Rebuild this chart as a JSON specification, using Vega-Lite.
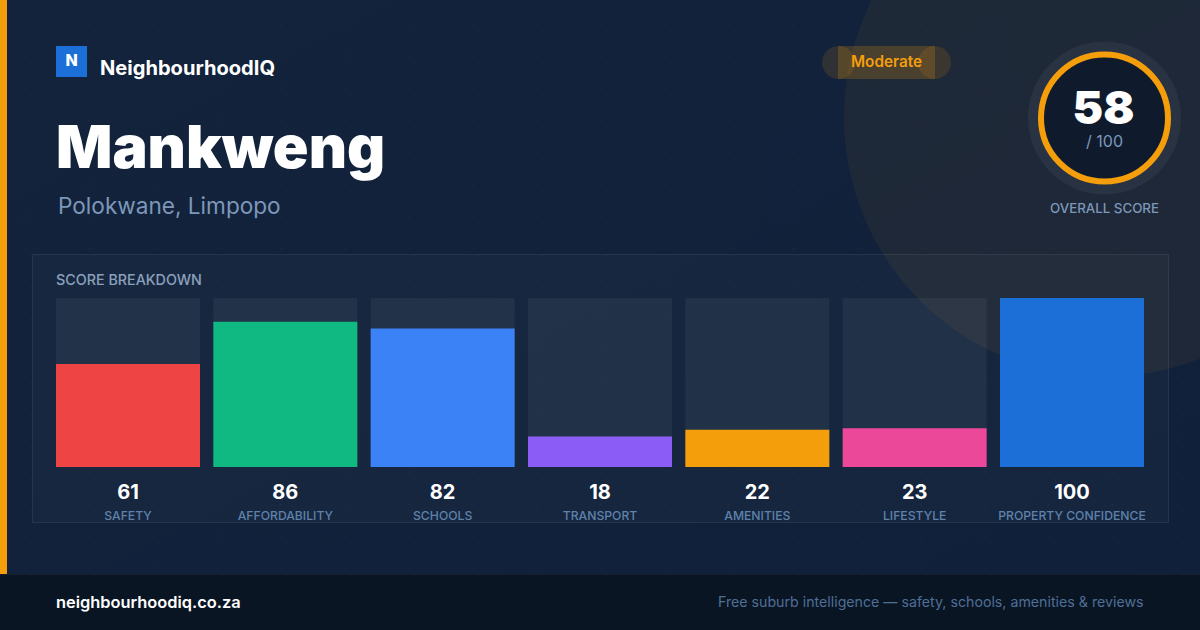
{
  "$schema": "https://vega.github.io/schema/vega-lite/v6.json",
  "description": "NeighbourhoodIQ score card for Mankweng",
  "width": 1200,
  "height": 630,
  "autosize": "none",
  "padding": 0,
  "background": "#11213b",
  "view": {
    "stroke": null,
    "fill": {"gradient": "linear", "x1": 0, "y1": 0, "x2": 1, "y2": 1, "stops": [
      {"offset": 0, "color": "#13233c"},
      {"offset": 1, "color": "#10203a"}
    ]}
  },
  "config": {"axis": {"domain": false, "ticks": false, "labels": false, "grid": false, "titleOpacity": 0}, "text": {"font": "Inter"}},
  "resolve": {"scale": {"x": "independent", "y": "independent"}, "axis": {"x": "independent", "y": "independent"}},
  "layer": [
    {
      "data": {"values": [{"card": "Mankweng"}]},
      "layer": [
        {
          "mark": {"type": "point", "filled": true, "size": 270400, "color": "#f59e0b", "opacity": 0.06},
          "encoding": {
            "x": {"datum": 1104, "type": "quantitative", "scale": {"domain": [0, 1200], "range": [0, 1200], "nice": false}, "axis": {
              "values": [24, 56, 88, 120, 152, 184, 216, 248, 280, 312, 344, 376, 408, 440, 472, 504, 536, 568, 600, 632, 664, 696, 728, 760, 792, 824, 856, 888, 920, 952, 984, 1016, 1048, 1080, 1112, 1144, 1176],
              "grid": true, "gridColor": "#ffffff", "gridOpacity": 0.035, "gridWidth": 2, "gridDash": [2, 30], "gridDashOffset": 3,
              "title": null
            }},
            "y": {"datum": 117, "type": "quantitative", "scale": {"domain": [0, 630], "range": [0, 630], "nice": false}}
          }
        },
        {
          "mark": {"type": "rect", "color": "#f59e0b"},
          "encoding": {"x": {"datum": 0}, "x2": {"datum": 7}, "y": {"datum": 0}, "y2": {"datum": 575}}
        },
        {
          "mark": {"type": "rect", "fill": "#ffffff", "fillOpacity": 0.025, "stroke": "#ffffff", "strokeOpacity": 0.08, "strokeWidth": 1},
          "encoding": {"x": {"datum": 32.5}, "x2": {"datum": 1168.5}, "y": {"datum": 254.5}, "y2": {"datum": 522.5}}
        },
        {
          "mark": {"type": "rect", "fill": "#0a1524"},
          "encoding": {"x": {"datum": 0}, "x2": {"datum": 1200}, "y": {"datum": 574}, "y2": {"datum": 630}}
        },
        {
          "mark": {"type": "rect", "fill": "#ffffff", "opacity": 0.05},
          "encoding": {"x": {"datum": 0}, "x2": {"datum": 1200}, "y": {"datum": 574}, "y2": {"datum": 575}}
        },
        {
          "mark": {"type": "rect", "color": "#1d6fd8"},
          "encoding": {"x": {"datum": 56}, "x2": {"datum": 87}, "y": {"datum": 46}, "y2": {"datum": 77}}
        },
        {
          "mark": {"type": "text", "text": "N", "fontSize": 16, "fontWeight": 800, "color": "#ffffff", "align": "center", "baseline": "alphabetic"},
          "encoding": {"x": {"datum": 71.5}, "y": {"datum": 66}}
        },
        {
          "mark": {"type": "text", "text": "NeighbourhoodIQ", "fontSize": 20.1, "fontWeight": 700, "color": "#ffffff", "align": "left", "baseline": "alphabetic"},
          "encoding": {"x": {"datum": 100}, "y": {"datum": 75}}
        },
        {
          "mark": {"type": "text", "text": "Mankweng", "fontSize": 59, "fontWeight": 900, "color": "#ffffff", "align": "left", "baseline": "alphabetic"},
          "encoding": {"x": {"datum": 56}, "y": {"datum": 168}}
        },
        {
          "mark": {"type": "text", "text": "Polokwane, Limpopo", "fontSize": 22.6, "fontWeight": 400, "color": "#7d97b8", "align": "left", "baseline": "alphabetic"},
          "encoding": {"x": {"datum": 58}, "y": {"datum": 214}}
        },
        {
          "mark": {"type": "rect", "color": "#f59e0b", "opacity": 0.2},
          "encoding": {"x": {"datum": 838}, "x2": {"datum": 935}, "y": {"datum": 46}, "y2": {"datum": 79}}
        },
        {
          "mark": {"type": "point", "filled": true, "size": 1089, "color": "#f59e0b", "opacity": 0.13},
          "encoding": {"x": {"datum": 838.5}, "y": {"datum": 62.5}}
        },
        {
          "mark": {"type": "point", "filled": true, "size": 1089, "color": "#f59e0b", "opacity": 0.13},
          "encoding": {"x": {"datum": 934.5}, "y": {"datum": 62.5}}
        },
        {
          "mark": {"type": "text", "text": "Moderate", "fontSize": 15.3, "fontWeight": 600, "color": "#f59e0b", "align": "center", "baseline": "alphabetic"},
          "encoding": {"x": {"datum": 886.5}, "y": {"datum": 67}}
        },
        {
          "mark": {"type": "point", "filled": true, "size": 23409, "color": "#ffffff", "opacity": 0.05},
          "encoding": {"x": {"datum": 1104.5}, "y": {"datum": 118}}
        },
        {
          "mark": {"type": "point", "filled": true, "size": 16129, "color": "#0f1b2d", "stroke": "#f59e0b", "strokeWidth": 6, "strokeOpacity": 1, "opacity": 1},
          "encoding": {"x": {"datum": 1104.5}, "y": {"datum": 118}}
        },
        {
          "mark": {"type": "text", "text": "58", "fontSize": 46, "fontWeight": 900, "color": "#ffffff", "align": "center", "baseline": "alphabetic"},
          "encoding": {"x": {"datum": 1103.5}, "y": {"datum": 124}}
        },
        {
          "mark": {"type": "text", "text": "/ 100", "fontSize": 16, "fontWeight": 400, "color": "#7d97b8", "align": "center", "baseline": "alphabetic"},
          "encoding": {"x": {"datum": 1104.5}, "y": {"datum": 147}}
        },
        {
          "mark": {"type": "text", "text": "OVERALL SCORE", "fontSize": 13.3, "fontWeight": 500, "color": "#7d97b8", "align": "center", "baseline": "alphabetic"},
          "encoding": {"x": {"datum": 1104.5}, "y": {"datum": 213}}
        },
        {
          "mark": {"type": "text", "text": "SCORE BREAKDOWN", "fontSize": 14.3, "fontWeight": 500, "color": "#8aa0bd", "align": "left", "baseline": "alphabetic"},
          "encoding": {"x": {"datum": 56}, "y": {"datum": 285}}
        },
        {
          "mark": {"type": "text", "text": "neighbourhoodiq.co.za", "fontSize": 16.4, "fontWeight": 600, "color": "#ffffff", "align": "left", "baseline": "alphabetic"},
          "encoding": {"x": {"datum": 56}, "y": {"datum": 608}}
        },
        {
          "mark": {"type": "text", "text": "Free suburb intelligence — safety, schools, amenities & reviews", "fontSize": 14.2, "fontWeight": 400, "color": "#4f6f96", "align": "right", "baseline": "alphabetic"},
          "encoding": {"x": {"datum": 1143.5}, "y": {"datum": 607}}
        }
      ]
    },
    {
      "data": {"values": [
        {"metric": "SAFETY", "score": 61},
        {"metric": "AFFORDABILITY", "score": 86},
        {"metric": "SCHOOLS", "score": 82},
        {"metric": "TRANSPORT", "score": 18},
        {"metric": "AMENITIES", "score": 22},
        {"metric": "LIFESTYLE", "score": 23},
        {"metric": "PROPERTY CONFIDENCE", "score": 100}
      ]},
      "encoding": {
        "x": {"field": "metric", "type": "nominal", "sort": null, "axis": null, "scale": {"range": [56, 1144], "paddingInner": 0.0847, "paddingOuter": 0}}
      },
      "layer": [
        {
          "mark": {"type": "bar", "color": "#ffffff", "opacity": 0.05},
          "encoding": {
            "y": {"datum": 100, "type": "quantitative", "axis": null, "scale": {"domain": [0, 100], "range": [467, 298]}},
            "y2": {"datum": 0}
          }
        },
        {
          "mark": {"type": "bar", "opacity": 1},
          "encoding": {
            "y": {"field": "score", "type": "quantitative", "axis": null},
            "color": {"field": "metric", "type": "nominal", "sort": null, "legend": null, "scale": {
              "domain": ["SAFETY", "AFFORDABILITY", "SCHOOLS", "TRANSPORT", "AMENITIES", "LIFESTYLE", "PROPERTY CONFIDENCE"],
              "range": ["#ef4444", "#10b981", "#3b82f6", "#8b5cf6", "#f59e0b", "#ec4899", "#1d6fd8"]
            }}
          }
        },
        {
          "mark": {"type": "text", "fontSize": 20, "fontWeight": 700, "color": "#ffffff", "baseline": "alphabetic", "dy": 32},
          "encoding": {"y": {"datum": 0, "axis": null}, "text": {"field": "score", "type": "quantitative"}}
        },
        {
          "mark": {"type": "text", "fontSize": 12.2, "fontWeight": 500, "color": "#5f82ab", "baseline": "alphabetic", "dy": 53},
          "encoding": {"y": {"datum": 0, "axis": null}, "text": {"field": "metric", "type": "nominal"}}
        }
      ]
    }
  ]
}
